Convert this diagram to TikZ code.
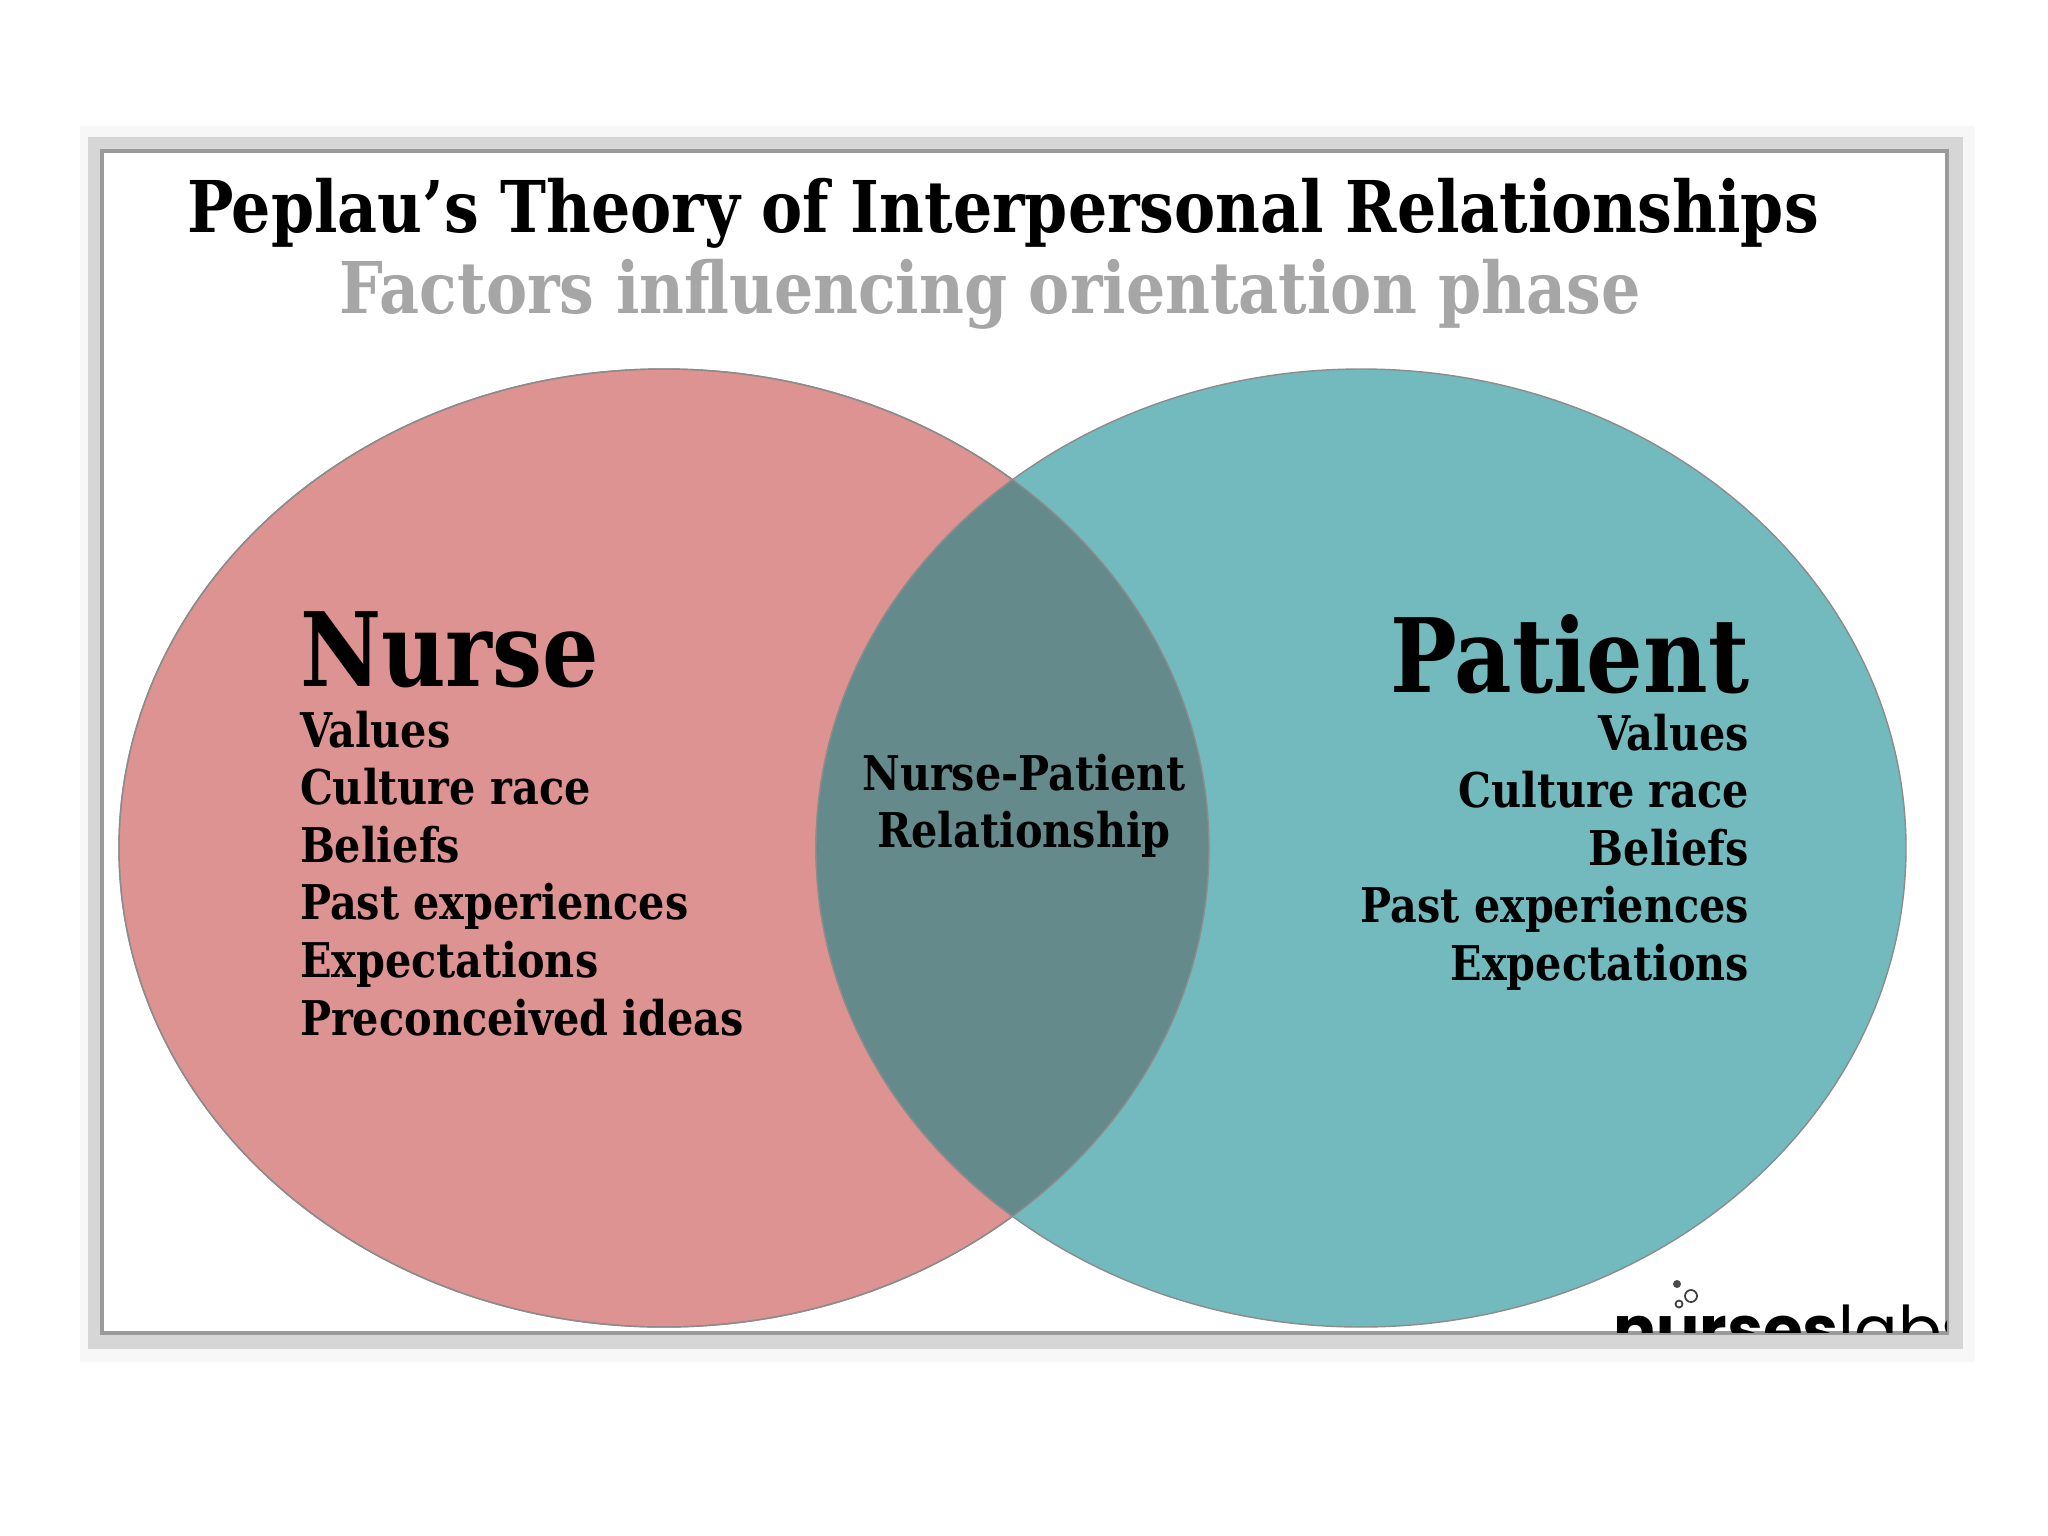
\documentclass[tikz,border=0pt]{standalone}
\usepackage{fontspec}
\setmainfont{DejaVu Serif}[FakeStretch=0.865]
\newfontfamily\logofont{Poppins}
\definecolor{nurseRed}{HTML}{DD9391}
\definecolor{patientTeal}{HTML}{72BABD}
\definecolor{overlapGrey}{HTML}{658A8C}
\definecolor{subGrey}{HTML}{A6A6A6}
\definecolor{bandGrey}{HTML}{D6D6D6}
\definecolor{edgeGrey}{HTML}{9A9A9A}
\tikzset{
  % one unit is one pixel of the 2048 wide page
  every node/.append style = {inner sep=0pt, outer sep=0pt},
  titlelbl/.style   = {font=\fontsize{20.3}{24}\selectfont\bfseries, anchor=base},
  headlbl/.style    = {font=\fontsize{29.2}{34}\selectfont\bfseries},
  listlbl/.style    = {font=\fontsize{13.6}{16.36}\selectfont\bfseries},
  vennline/.style   = {draw=black!45, line width=0.4pt},
}
\begin{document}
\begin{tikzpicture}[x=0.01cm,y=-0.01cm]
  \useasboundingbox (0,0) rectangle (2048,1536);
  \fill[white] (0,0) rectangle (2048,1536);
  % shadow frame round the card
  \fill[black!3] (80,126) rectangle (1975,1362);
  \fill[bandGrey] (88,137) rectangle (1963,1349);
  \fill[white] (102,151) rectangle (1947,1333);
  \draw[edgeGrey, line width=1pt] (102,1333) -- (102,151) -- (1947,151) -- (1947,1333) -- cycle;
  % title
  \node[titlelbl, black] (title) at (1003,232) {Peplau’s Theory of Interpersonal Relationships};
  \node[titlelbl, subGrey] (subtitle) at (990,313) {Factors influencing orientation phase};
  % the two sets and their overlap
  \draw[vennline, fill=nurseRed] (664,848) ellipse (545 and 479);
  \draw[vennline, fill=patientTeal] (1361,848) ellipse (545 and 479);
  \begin{scope}
    \clip (664,848) ellipse (545 and 479);
    \draw[vennline, fill=overlapGrey] (1361,848) ellipse (545 and 479);
  \end{scope}
  \draw[vennline] (664,848) ellipse (545 and 479);
  % nurse side
  \node[headlbl, anchor=base west] (nurse) at (300,686) {Nurse};
  \node[listlbl, anchor=north west, align=left] (nurselist) at (300,711) {Values\\Culture race\\Beliefs\\Past experiences\\Expectations\\Preconceived ideas};
  % patient side
  \node[headlbl, anchor=base east] (patient) at (1749,692) {Patient};
  \node[listlbl, anchor=north east, align=right] (patientlist) at (1749,714) {Values\\Culture race\\Beliefs\\Past experiences\\Expectations};
  % middle
  \node[listlbl, anchor=north, align=center] (middle) at (1024,754) {Nurse-Patient\\Relationship};
  % logo, cut off by the card edge
  \begin{scope}
    \clip (1600,1270) rectangle (1946,1332);
    \node[anchor=base west, font=\fontsize{18.3}{22}\logofont] (logo) at (1613,1352) {\textbf{nurses}labs};
    \fill[black!70] (1677,1284) circle (4);
    \draw[black!75, line width=0.5pt] (1691,1296) circle (6) (1679,1304) circle (3.5);
  \end{scope}
\end{tikzpicture}
\end{document}
